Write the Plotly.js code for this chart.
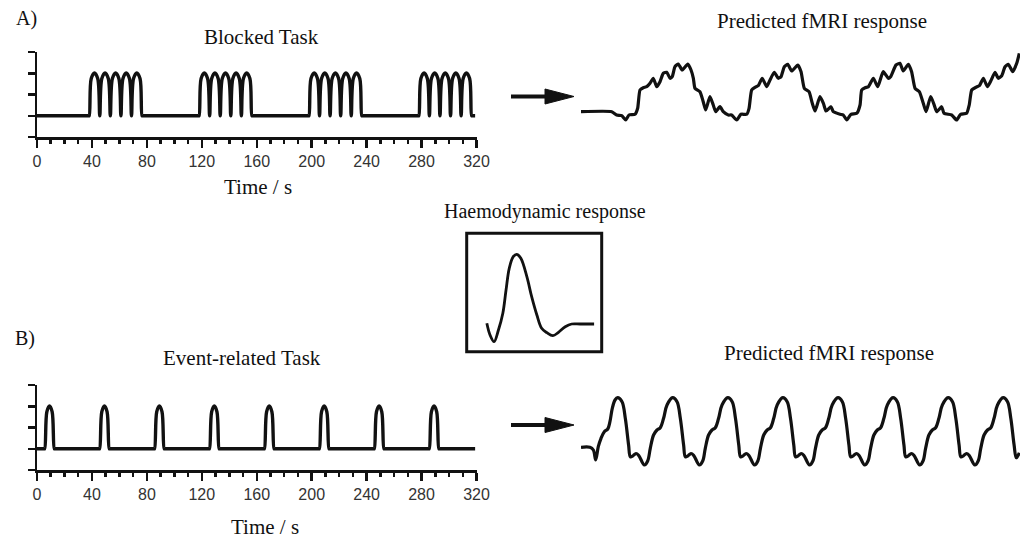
<!DOCTYPE html>
<html>
<head>
<meta charset="utf-8">
<script src="https://cdn.plot.ly/plotly-3.0.1.min.js"></script>
<style>
  html, body { margin: 0; padding: 0; background: #fff; }
  #chart { width: 1022px; height: 538px; }
</style>
</head>
<body>
<div id="chart"></div>
<script>
// ---- Stimulus time courses (time in s, amplitude in task units) ----
// Blocked task: four blocks of five rapid trials
const blockedTime = [0, 37.6,
  38, 39.5, 41.85, 44.2, 45.7, 47.2, 49.55, 51.9, 53.4, 54.9, 57.25, 59.6, 61.1, 62.6, 64.95, 67.3, 68.8, 70.3, 72.65, 75.0, 76.5, 76.9,
  117.6, 118, 119.5, 121.85, 124.2, 125.7, 127.2, 129.55, 131.9, 133.4, 134.9, 137.25, 139.6, 141.1, 142.6, 144.95, 147.3, 148.8, 150.3, 152.65, 155.0, 156.5, 156.9,
  197.6, 198, 199.5, 201.85, 204.2, 205.7, 207.2, 209.55, 211.9, 213.4, 214.9, 217.25, 219.6, 221.1, 222.6, 224.95, 227.3, 228.8, 230.3, 232.65, 235.0, 236.5, 236.9,
  277.6, 278, 279.5, 281.85, 284.2, 285.7, 287.2, 289.55, 291.9, 293.4, 294.9, 297.25, 299.6, 301.1, 302.6, 304.95, 307.3, 308.8, 310.3, 312.65, 315.0, 316.5, 316.9,
  319];
const blockedLevel = [0, 0,
  0, 1.75, 2.02, 1.75, 0, 1.75, 2.02, 1.75, 0, 1.75, 2.02, 1.75, 0, 1.75, 2.02, 1.75, 0, 1.75, 2.02, 1.75, 0, 0,
  0, 0, 1.75, 2.02, 1.75, 0, 1.75, 2.02, 1.75, 0, 1.75, 2.02, 1.75, 0, 1.75, 2.02, 1.75, 0, 1.75, 2.02, 1.75, 0, 0,
  0, 0, 1.75, 2.02, 1.75, 0, 1.75, 2.02, 1.75, 0, 1.75, 2.02, 1.75, 0, 1.75, 2.02, 1.75, 0, 1.75, 2.02, 1.75, 0, 0,
  0, 0, 1.75, 2.02, 1.75, 0, 1.75, 2.02, 1.75, 0, 1.75, 2.02, 1.75, 0, 1.75, 2.02, 1.75, 0, 1.75, 2.02, 1.75, 0, 0,
  0];

// Event-related task: single brief events every 40 s
const eventTime = [0,
  5.2, 5.6, 7.2, 9.1, 11.0, 12.6, 13.0,
  45.2, 45.6, 47.2, 49.1, 51.0, 52.6, 53.0,
  85.2, 85.6, 87.2, 89.1, 91.0, 92.6, 93.0,
  125.2, 125.6, 127.2, 129.1, 131.0, 132.6, 133.0,
  165.2, 165.6, 167.2, 169.1, 171.0, 172.6, 173.0,
  205.2, 205.6, 207.2, 209.1, 211.0, 212.6, 213.0,
  245.2, 245.6, 247.2, 249.1, 251.0, 252.6, 253.0,
  285.2, 285.6, 287.2, 289.1, 291.0, 292.6, 293.0,
  319];
const eventLevel = [0,
  0, 0, 1.75, 2.02, 1.75, 0, 0,
  0, 0, 1.75, 2.02, 1.75, 0, 0,
  0, 0, 1.75, 2.02, 1.75, 0, 0,
  0, 0, 1.75, 2.02, 1.75, 0, 0,
  0, 0, 1.75, 2.02, 1.75, 0, 0,
  0, 0, 1.75, 2.02, 1.75, 0, 0,
  0, 0, 1.75, 2.02, 1.75, 0, 0,
  0, 0, 1.75, 2.02, 1.75, 0, 0,
  0];

// ---- Predicted BOLD responses (arbitrary units) ----
const blockedBoldTime = [0, 22.4, 26.0, 29.7, 32.6, 35.0, 39.4, 41.3, 43.0, 45.4,
  47.9, 50.3, 52.7, 55.2, 57.6, 60.0, 62.5, 64.9, 66.5, 68.5,
  70.9, 73.8, 77.8, 80.2, 81.9, 83.1, 86.7, 89.1, 90.9, 94.0,
  96.4, 98.2, 101.3, 103.7, 107.4, 109.8, 113.5, 116.6, 120.8, 122.5,
  124.4, 126.8, 129.2, 132.1, 135.4, 137.8, 140.9, 143.8, 145.8, 148.2,
  150.7, 153.6, 158.0, 160.4, 162.8, 166.2, 168.6, 170.6, 174.2, 176.7,
  178.6, 182.2, 183.9, 188.8, 191.2, 193.7, 196.8, 201.0, 203.4, 204.6,
  207.1, 209.5, 213.1, 216.3, 220.3, 224.0, 225.7, 229.6, 232.5, 234.9,
  238.6, 241.0, 243.5, 246.6, 249.5, 251.5, 254.9, 257.3, 259.3, 262.9,
  264.6, 270.2, 273.8, 276.7, 281.1, 283.0, 284.8, 287.9, 290.4, 293.3,
  296.2, 298.7, 301.8, 304.2, 306.7, 309.1, 311.5, 314.7, 317.6, 319.5];
const blockedBold = [0, 0, -0.33, -0.4, -0.83, -0.33, -0.26, 0.34, 2.17, 2.4,
  2.5, 2.84, 3.34, 2.5, 3.0, 3.84, 3.94, 3.34, 3.5, 4.5,
  4.77, 4.17, 4.77, 4.17, 3.34, 2.34, 2.0, 1.0, 0.17, 1.5,
  0.67, 0, 0.5, 0, -0.33, -0.33, -0.83, -0.26, -0.26, 0.34,
  2.17, 2.44, 2.6, 3.34, 2.5, 3.17, 3.94, 3.34, 3.5, 4.5,
  4.74, 4.07, 4.67, 4.0, 2.34, 2.0, 0.84, 0.07, 1.5, 0.84,
  0.07, 0.5, 0, -0.26, -0.33, -0.83, -0.26, -0.16, 0.67, 2.17,
  2.4, 2.5, 3.34, 2.5, 4.0, 3.34, 3.5, 4.67, 4.84, 4.07,
  4.74, 4.0, 2.34, 2.0, 0.84, 0, 1.5, 0.74, 0, 0.5,
  -0.16, -0.33, -0.83, -0.26, -0.16, 0.67, 2.17, 2.44, 2.6, 3.34,
  2.5, 3.07, 3.94, 3.34, 3.6, 4.5, 4.74, 4.0, 4.84, 5.84];

const eventBoldTime = [0, 6.5, 9.0, 10.7, 12.6, 14.6, 17.0, 19.5, 21.1, 22.8, 24.8,
  26.7, 29.9, 32.3, 34.7, 36.0, 37.9, 40.1, 42.0, 46.2, 48.6, 50.5, 52.9, 55.4, 57.8, 60.2, 62.7,
  66.8, 70.0, 72.4, 74.8, 76.1, 78.0, 80.2, 82.1, 86.3, 88.7, 90.6, 93.0, 95.5, 97.9, 100.3, 102.8,
  107.0, 110.2, 112.6, 115.0, 116.3, 118.2, 120.4, 122.3, 126.5, 128.9, 130.8, 133.2, 135.7, 138.1, 140.5, 143.0,
  147.1, 150.3, 152.7, 155.1, 156.4, 158.3, 160.5, 162.4, 166.6, 169.0, 170.9, 173.3, 175.8, 178.2, 180.6, 183.1,
  187.3, 190.5, 192.9, 195.3, 196.6, 198.5, 200.7, 202.6, 206.8, 209.2, 211.1, 213.5, 216.0, 218.4, 220.8, 223.3,
  227.4, 230.6, 233.0, 235.4, 236.7, 238.6, 240.8, 242.7, 246.9, 249.3, 251.2, 253.6, 256.1, 258.5, 260.9, 263.4,
  267.6, 270.8, 273.2, 275.6, 276.9, 278.8, 281.0, 282.9, 287.1, 289.5, 291.4, 293.8, 296.3, 298.7, 301.1, 303.6,
  307.7, 310.9, 313.3, 315.7, 317.3, 319.5];
const eventBold = [0, 0, -0.27, -1.27, 0.06, 0.9, 1.56, 1.83, 2.56, 3.9, 4.73,
  4.96, 4.56, 2.9, 0.23, -0.95, -0.85, -0.62, -0.8, -1.77, -1.37, -0.1, 1.23, 1.73, 1.96, 2.9, 4.23,
  4.96, 4.56, 2.9, 0.23, -0.95, -0.85, -0.62, -0.8, -1.77, -1.37, -0.1, 1.23, 1.73, 1.96, 2.9, 4.23,
  4.96, 4.56, 2.9, 0.23, -0.95, -0.85, -0.62, -0.8, -1.77, -1.37, -0.1, 1.23, 1.73, 1.96, 2.9, 4.23,
  4.96, 4.56, 2.9, 0.23, -0.95, -0.85, -0.62, -0.8, -1.77, -1.37, -0.1, 1.23, 1.73, 1.96, 2.9, 4.23,
  4.96, 4.56, 2.9, 0.23, -0.95, -0.85, -0.62, -0.8, -1.77, -1.37, -0.1, 1.23, 1.73, 1.96, 2.9, 4.23,
  4.96, 4.56, 2.9, 0.23, -0.95, -0.85, -0.62, -0.8, -1.77, -1.37, -0.1, 1.23, 1.73, 1.96, 2.9, 4.23,
  4.96, 4.56, 2.9, 0.23, -0.95, -0.85, -0.62, -0.8, -1.77, -1.37, -0.1, 1.23, 1.73, 1.96, 2.9, 4.23,
  4.96, 4.56, 2.9, 0.23, -1.05, -0.55];

// Haemodynamic response function (time in s)
const hrfTime = [0.2, 1.0, 2.0, 3.1, 4.2, 5.0, 5.8, 6.8, 7.7, 8.7, 10.2, 11.4, 12.7, 13.9, 15.2, 16.7, 18.1, 19.8, 21.4, 23.5, 27.0];
const hrfValue = [-0.03, -1.2, -1.87, -0.7, 0.97, 3.3, 5.47, 6.63, 6.87, 6.47, 4.63, 2.63, 0.8, -0.53, -0.97, -1.27, -0.93, -0.37, -0.1, -0.1, -0.1];

// Axis ticks and labels
const timeTicks = [0, 40, 80, 120, 160, 200, 240, 280, 320];
const timeTickLabels = ['0', '40', '80', '120', '160', '200', '240', '280', '320'];
const levelTicks = [-1, 0, 1, 2, 3];

// Text
const panelLabels = ['A)', 'B)'];
const taskTitles = ['Blocked Task', 'Event-related Task'];
const responseTitle = 'Predicted fMRI response';
const hrfTitle = 'Haemodynamic response';
const timeAxisTitle = 'Time / s';

// ---- layout helpers (pixel -> paper) ----
const W = 1022, H = 538;
const px = x => x / W;
const py = y => 1 - y / H;

const INK = '#111';
const SERIF = 'Liberation Serif, Times New Roman, serif';
const SANS = 'Liberation Sans, Arial, sans-serif';

function taskXAxis() {
  return {
    domain: [px(37), px(476.5)], range: [0, 320],
    showline: true, linecolor: INK, linewidth: 2.5,
    ticks: 'outside', ticklen: 8, tickwidth: 2.5, tickcolor: INK,
    tickvals: timeTicks, ticktext: timeTickLabels,
    tickfont: {family: SANS, size: 16, color: '#333'},
    minor: {dtick: 10, tick0: 0, ticks: 'outside', ticklen: 4, tickwidth: 2.5, tickcolor: INK, showgrid: false},
    showgrid: false, zeroline: false, fixedrange: true
  };
}
function taskYAxis(top, bottom) {
  return {
    domain: [py(bottom), py(top)], range: [-1, 3],
    showline: true, linecolor: INK, linewidth: 2.5,
    ticks: 'outside', ticklen: 7, tickwidth: 2.5, tickcolor: INK,
    tickvals: levelTicks, showticklabels: false,
    showgrid: false, zeroline: false, fixedrange: true
  };
}
function bareAxis(domain, range) {
  return {domain: domain, range: range, visible: false, showgrid: false, zeroline: false, fixedrange: true};
}

const lineStyle = {color: INK, width: 3.4, shape: 'spline', smoothing: 1};

const traces = [
  {x: blockedTime, y: blockedLevel, xaxis: 'x', yaxis: 'y', mode: 'lines', line: lineStyle, hoverinfo: 'skip'},
  {x: blockedBoldTime, y: blockedBold, xaxis: 'x2', yaxis: 'y2', mode: 'lines',
   line: {color: INK, width: 3.2, shape: 'spline', smoothing: 0.5}, hoverinfo: 'skip'},
  {x: eventTime, y: eventLevel, xaxis: 'x3', yaxis: 'y3', mode: 'lines', line: lineStyle, hoverinfo: 'skip'},
  {x: eventBoldTime, y: eventBold, xaxis: 'x4', yaxis: 'y4', mode: 'lines',
   line: {color: INK, width: 3.2, shape: 'spline', smoothing: 1}, hoverinfo: 'skip'},
  {x: hrfTime, y: hrfValue, xaxis: 'x5', yaxis: 'y5', mode: 'lines',
   line: {color: INK, width: 2.8, shape: 'spline', smoothing: 1}, hoverinfo: 'skip'}
];

function label(text, x, y, size, family) {
  return {text: text, x: px(x), y: py(y), xref: 'paper', yref: 'paper',
          xanchor: 'center', yanchor: 'middle', showarrow: false,
          font: {family: family || SERIF, size: size || 21, color: INK}};
}

function arrowShapes(x0, x1, y) {
  const headLen = 29, headHalf = 7.5;
  return [
    {type: 'line', xref: 'paper', yref: 'paper', x0: px(x0), x1: px(x1 - headLen + 3), y0: py(y), y1: py(y),
     line: {color: INK, width: 4}},
    {type: 'path', xref: 'paper', yref: 'paper',
     path: `M ${px(x1 - headLen)} ${py(y - headHalf)} L ${px(x1)} ${py(y)} L ${px(x1 - headLen)} ${py(y + headHalf)} Z`,
     fillcolor: INK, line: {color: INK, width: 1}}
  ];
}

const layout = {
  width: W, height: H,
  margin: {l: 0, r: 0, t: 0, b: 0},
  paper_bgcolor: '#fff', plot_bgcolor: 'rgba(0,0,0,0)',
  showlegend: false,
  xaxis: Object.assign(taskXAxis(), {anchor: 'y'}),
  yaxis: Object.assign(taskYAxis(52, 137), {anchor: 'x'}),
  xaxis3: Object.assign(taskXAxis(), {anchor: 'y3'}),
  yaxis3: Object.assign(taskYAxis(385, 470), {anchor: 'x3'}),
  xaxis2: Object.assign(bareAxis([px(581), px(1020)], [0, 320]), {anchor: 'y2'}),
  yaxis2: Object.assign(bareAxis([py(130), py(40)], [-1.83, 7.17]), {anchor: 'x2'}),
  xaxis4: Object.assign(bareAxis([px(581), px(1020)], [0, 320]), {anchor: 'y4'}),
  yaxis4: Object.assign(bareAxis([py(475), py(380)], [-2.77, 6.73]), {anchor: 'x4'}),
  xaxis5: Object.assign(bareAxis([px(466.7), px(601.7)], [-4.83, 28.9]), {anchor: 'y5'}),
  yaxis5: Object.assign(bareAxis([py(351.7), py(233.3)], [-2.87, 8.97]), {anchor: 'x5'}),
  annotations: [
    label(panelLabels[0], 26, 19, 20),
    label(taskTitles[0], 261, 37),
    label(timeAxisTitle, 258, 187),
    label(responseTitle, 822, 21),
    label(hrfTitle, 545, 212, 20),
    label(panelLabels[1], 25, 338, 20),
    label(taskTitles[1], 242, 358),
    label(timeAxisTitle, 265, 527),
    label(responseTitle, 829, 353)
  ],
  shapes: [
    {type: 'rect', xref: 'paper', yref: 'paper', x0: px(466.7), x1: px(601.7), y0: py(351.7), y1: py(233.3),
     line: {color: INK, width: 3}, fillcolor: 'rgba(0,0,0,0)'}
  ].concat(arrowShapes(511, 574, 96.5), arrowShapes(511, 574, 425))
};

Plotly.newPlot('chart', traces, layout, {staticPlot: true, displayModeBar: false});
</script>
</body>
</html>
